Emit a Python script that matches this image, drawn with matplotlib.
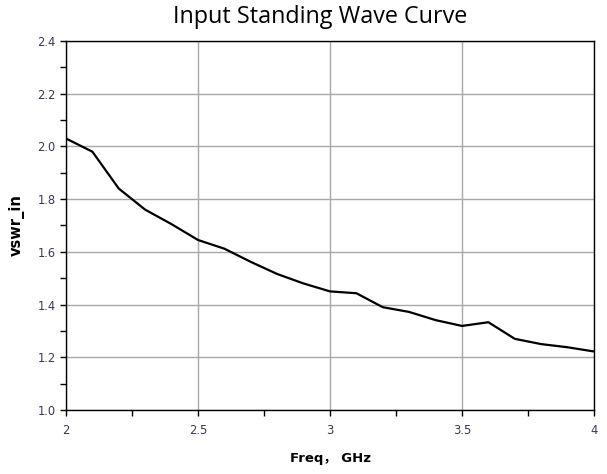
import matplotlib
matplotlib.use('Agg')
import matplotlib.pyplot as plt
from matplotlib.ticker import MultipleLocator, FormatStrFormatter
import numpy as np

# 频率 (GHz) 和输入驻波比
freq = [2.0, 2.1, 2.2, 2.3, 2.4, 2.5, 2.6, 2.7, 2.8, 2.9, 3.0,
        3.1, 3.2, 3.3, 3.4, 3.5, 3.6, 3.7, 3.8, 3.9, 4.0]
vswr_in = [2.03, 1.98, 1.84, 1.76, 1.705, 1.645, 1.612, 1.562, 1.516, 1.48, 1.45,
           1.443, 1.39, 1.372, 1.341, 1.319, 1.333, 1.27, 1.25, 1.238, 1.222]

title = "Input Standing Wave Curve"
xlabel = "Freq\uff0c GHz"
ylabel = "vswr_in"

plt.rcParams['font.family'] = ['DejaVu Sans', 'Noto Sans CJK SC']

fig = plt.figure(figsize=(6.07, 4.74), dpi=100)
ax = fig.add_axes([66/607, 64/474, 528/607, 369/474])

ax.plot(freq, vswr_in, color='black', linewidth=1.6)

ax.set_xlim(2, 4)
ax.set_ylim(1.0, 2.4)
ax.xaxis.set_major_locator(MultipleLocator(0.5))
ax.xaxis.set_minor_locator(MultipleLocator(0.25))
ax.yaxis.set_major_locator(MultipleLocator(0.2))
ax.yaxis.set_minor_locator(MultipleLocator(0.1))
ax.yaxis.set_major_formatter(FormatStrFormatter('%.1f'))
ax.xaxis.set_major_formatter(plt.FuncFormatter(lambda v, p: ('%g' % v)))

ax.grid(True, which='major', color='#a8a8a8', linewidth=1.0)
ax.tick_params(which='both', direction='out', length=4, width=1, color='black',
               labelsize=8.3, labelcolor='#383850')
ax.tick_params(axis='x', pad=6)
for s in ax.spines.values():
    s.set_color('black')
    s.set_linewidth(1.0)

ax.set_xlabel(xlabel, fontsize=9.5, fontweight='bold',
              family=['DejaVu Sans', 'Noto Sans CJK SC'], labelpad=11)
ax.set_ylabel(ylabel, fontsize=10.5, fontweight='bold', labelpad=9)
fig.text(320/607, 1 - 17/474, title, ha='center', va='center',
         fontsize=16.8, family='Open Sans')

fig.savefig('out.png', dpi=100)
